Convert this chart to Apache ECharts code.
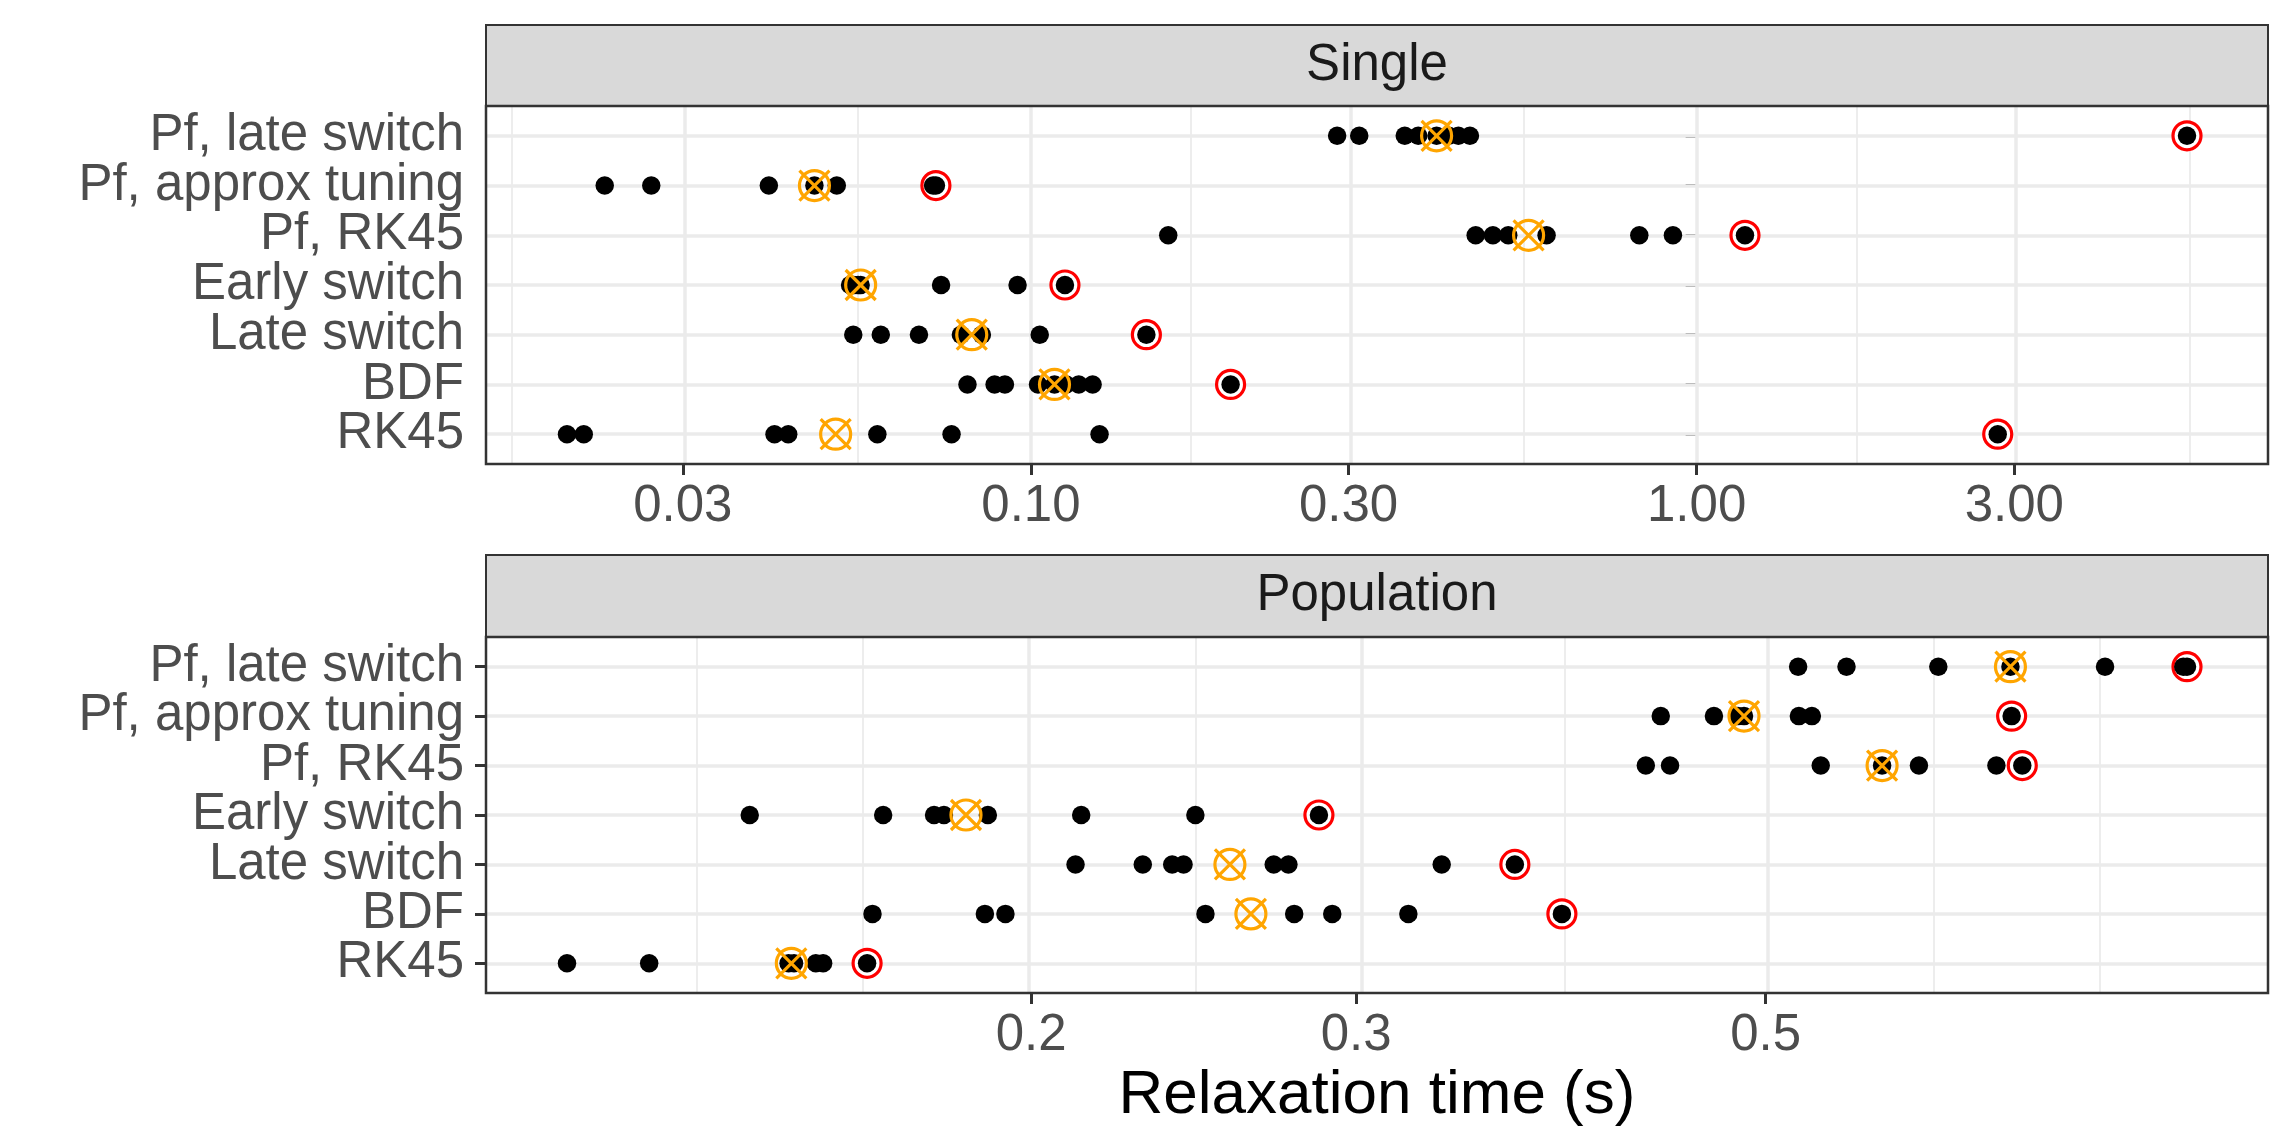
<!DOCTYPE html>
<html>
<head>
<meta charset="utf-8">
<script src="https://cdn.jsdelivr.net/npm/echarts@6/dist/echarts.min.js"></script>
<style>
html,body{margin:0;padding:0;background:#ffffff;}
#chart{width:2287px;height:1130px;}
</style>
</head>
<body>
<div id="chart"></div>
<script>
// ---------- DATA ----------
// categories, bottom to top
const methods = ['RK45', 'BDF', 'Late switch', 'Early switch', 'Pf, RK45', 'Pf, approx tuning', 'Pf, late switch'];

// Single: relaxation time (s) of each run, one array per method (same order as methods)
const singleRuns = [
  [0.0201, 0.0213, 0.0412, 0.0432, 0.0588, 0.0760, 0.1268, 2.833],
  [0.0803, 0.0882, 0.0914, 0.1025, 0.1085, 0.1130, 0.1180, 0.1238, 0.1995],
  [0.0541, 0.0595, 0.0679, 0.0785, 0.0844, 0.1031, 0.1491],
  [0.0535, 0.0542, 0.0550, 0.0555, 0.0733, 0.0955, 0.1125],
  [0.1608, 0.4657, 0.4943, 0.5212, 0.5951, 0.8201, 0.9213, 1.182],
  [0.0229, 0.0269, 0.0404, 0.0473, 0.0511, 0.0713, 0.0720],
  [0.2884, 0.3113, 0.3644, 0.3818, 0.4068, 0.4244, 0.4387, 0.4565, 5.452]
];
const singleMedians = [0.0509, 0.1085, 0.0815, 0.0555, 0.5592, 0.0473, 0.4068];

// Population
const populationRuns = [
  [0.1121, 0.1242, 0.1478, 0.1488, 0.1529, 0.1543, 0.1630],
  [0.1641, 0.1888, 0.1937, 0.2486, 0.2777, 0.2912, 0.3202, 0.3878],
  [0.2114, 0.2299, 0.2385, 0.2419, 0.2707, 0.2757, 0.3338, 0.3657],
  [0.1408, 0.1663, 0.1772, 0.1794, 0.1895, 0.2129, 0.2455, 0.2864],
  [0.4306, 0.4438, 0.5356, 0.5782, 0.6054, 0.6668, 0.6887],
  [0.4387, 0.4688, 0.4830, 0.4867, 0.5212, 0.5297, 0.6796],
  [0.5207, 0.5531, 0.6202, 0.6786, 0.7636, 0.8419, 0.8458]
];
const populationMedians = [0.1483, 0.2631, 0.2563, 0.1844, 0.5782, 0.4867, 0.6786];

// x tick values and labels
const singleTicks = [0.03, 0.1, 0.3, 1, 3];
const singleTickLabels = ['0.03', '0.10', '0.30', '1.00', '3.00'];
const populationTicks = [0.2, 0.3, 0.5];
const populationTickLabels = ['0.2', '0.3', '0.5'];

const panelTitles = ['Single', 'Population'];
const axisTitle = 'Relaxation time (s)';

// ---------- LAYOUT / STYLE ----------
const FONT = '"Liberation Sans", Arial, Helvetica, sans-serif';
const PL = 486, PR = 2268, W = PR - PL;
const layout = [
  { stripTop: 25, top: 106, bottom: 464 },
  { stripTop: 555, top: 637, bottom: 993 }
];
const GRID_COLOR = '#EBEBEB';
const DARK = '#333333';

function minorBreaks(majorLogs, lo, hi) {
  // ggplot2 regular_minor_breaks
  let b = majorLogs.filter(v => v >= lo && v <= hi);
  const bd = b[1] - b[0];
  if (lo < b[0]) b = [b[0] - bd].concat(b);
  if (hi > b[b.length - 1]) b = b.concat([b[b.length - 1] + bd]);
  const out = [];
  for (let i = 0; i < b.length; i++) {
    out.push(b[i]);
    if (i < b.length - 1) out.push((b[i] + b[i + 1]) / 2);
  }
  return out.filter(v => v >= lo && v <= hi && !majorLogs.some(m => Math.abs(m - v) < 1e-9));
}

const panels = [
  { runs: singleRuns, med: singleMedians, ticks: singleTicks, labels: singleTickLabels },
  { runs: populationRuns, med: populationMedians, ticks: populationTicks, labels: populationTickLabels }
];

const grid = [], xAxis = [], yAxis = [], series = [], graphic = [];
const yVals = methods.map((m, i) => i + 1);
const yOdd = yVals.filter(v => v % 2 === 1);
const yEven = yVals.filter(v => v % 2 === 0);
const crossSymbol = 'path://M0,10A10,10,0,1,1,20,10A10,10,0,1,1,0,10ZM0,0L20,20M20,0L0,20';

function yLabelAxis(gi, values, showTicks) {
  return {
    type: 'value', gridIndex: gi, min: 0.4, max: 7.6, position: 'left', offset: 0,
    axisLine: { show: false }, splitLine: { show: false },
    axisTick: { show: showTicks, length: 11, lineStyle: { color: DARK, width: 3 }, customValues: yVals },
    axisLabel: {
      customValues: values, color: '#4D4D4D', fontSize: 51, fontFamily: FONT, margin: 22,
      showMinLabel: true, showMaxLabel: true, hideOverlap: false,
      formatter: v => methods[Math.round(v) - 1] || ''
    }
  };
}

panels.forEach((p, i) => {
  const lay = layout[i];
  const logs = [].concat(...p.runs).map(Math.log10);
  const dmin = Math.min(...logs), dmax = Math.max(...logs);
  const pad = (dmax - dmin) * 0.05;
  const lo = dmin - pad, hi = dmax + pad;
  const majorLogs = p.ticks.map(Math.log10);
  const minorLogs = minorBreaks(majorLogs, lo, hi);

  grid.push({ left: PL, width: W, top: lay.top, height: lay.bottom - lay.top, containLabel: false, show: false });

  xAxis.push({
    type: 'value', gridIndex: i, min: lo, max: hi,
    axisLine: { show: false }, splitLine: { show: false },
    axisTick: { show: true, length: 11, lineStyle: { color: DARK, width: 3 }, customValues: majorLogs },
    axisLabel: {
      customValues: majorLogs, color: '#4D4D4D', fontSize: 51, fontFamily: FONT, margin: 17,
      showMinLabel: true, showMaxLabel: true, hideOverlap: false,
      formatter: v => { const k = majorLogs.findIndex(m => Math.abs(m - v) < 1e-6); return k >= 0 ? p.labels[k] : ''; }
    },
    name: i === 1 ? axisTitle : '', nameLocation: 'middle', nameGap: 72,
    nameTextStyle: { color: '#000000', fontSize: 62, fontFamily: FONT }
  });

  // two left y axes per panel: odd rows + ticks, even rows (avoids label-overlap culling)
  yAxis.push(yLabelAxis(i, yOdd, true));
  yAxis.push(yLabelAxis(i, yEven, false));
  const yi = 2 * i;

  // grid lines
  const mlData = [];
  minorLogs.forEach(v => mlData.push({ xAxis: v, lineStyle: { color: GRID_COLOR, width: 1.8, type: 'solid' } }));
  majorLogs.forEach(v => mlData.push({ xAxis: v, lineStyle: { color: GRID_COLOR, width: 3.5, type: 'solid' } }));
  yVals.forEach(v => mlData.push({ yAxis: v, lineStyle: { color: GRID_COLOR, width: 3.5, type: 'solid' } }));
  series.push({
    type: 'scatter', xAxisIndex: i, yAxisIndex: yi, data: [], z: 1, silent: true,
    markLine: { z: 1, silent: true, animation: false, symbol: ['none', 'none'], label: { show: false },
      emphasis: { disabled: true }, data: mlData }
  });

  // max ring (red, white fill), below black points
  series.push({
    type: 'scatter', xAxisIndex: i, yAxisIndex: yi, z: 2, silent: true,
    symbol: 'circle', symbolSize: 28,
    itemStyle: { color: '#FFFFFF', borderColor: '#FF0000', borderWidth: 3.2, opacity: 1 },
    data: p.runs.map((r, k) => [Math.log10(Math.max(...r)), k + 1])
  });

  // every run (black)
  const pts = [];
  p.runs.forEach((r, k) => r.forEach(v => pts.push([Math.log10(v), k + 1])));
  series.push({
    type: 'scatter', xAxisIndex: i, yAxisIndex: yi, z: 3, silent: true,
    symbol: 'circle', symbolSize: 18.5,
    itemStyle: { color: '#000000', opacity: 1 },
    data: pts
  });

  // median (orange circle-cross)
  series.push({
    type: 'scatter', xAxisIndex: i, yAxisIndex: yi, z: 4, silent: true,
    symbol: crossSymbol, symbolSize: 30,
    itemStyle: { color: 'rgba(0,0,0,0)', borderColor: '#FFA500', borderWidth: 3.2, opacity: 1 },
    data: p.med.map((v, k) => [Math.log10(v), k + 1])
  });

  // strip
  graphic.push({
    type: 'rect', z: 50, silent: true,
    shape: { x: PL, y: lay.stripTop, width: W, height: lay.top - lay.stripTop },
    style: { fill: '#D9D9D9', stroke: DARK, lineWidth: 2 }
  });
  graphic.push({
    type: 'text', z: 51, silent: true,
    x: PL + W / 2, y: (lay.stripTop + lay.top) / 2,
    style: { text: panelTitles[i], fill: '#1A1A1A', font: '51px ' + FONT, align: 'center', verticalAlign: 'middle' }
  });
  // panel border
  graphic.push({
    type: 'rect', z: 50, silent: true,
    shape: { x: PL, y: lay.top, width: W, height: lay.bottom - lay.top },
    style: { fill: 'none', stroke: DARK, lineWidth: 2.5 }
  });
});

const chart = echarts.init(document.getElementById('chart'), null, { renderer: 'canvas' });
chart.setOption({
  backgroundColor: '#FFFFFF',
  animation: false,
  textStyle: { fontFamily: FONT },
  grid, xAxis, yAxis, series, graphic
});
</script>
</body>
</html>
